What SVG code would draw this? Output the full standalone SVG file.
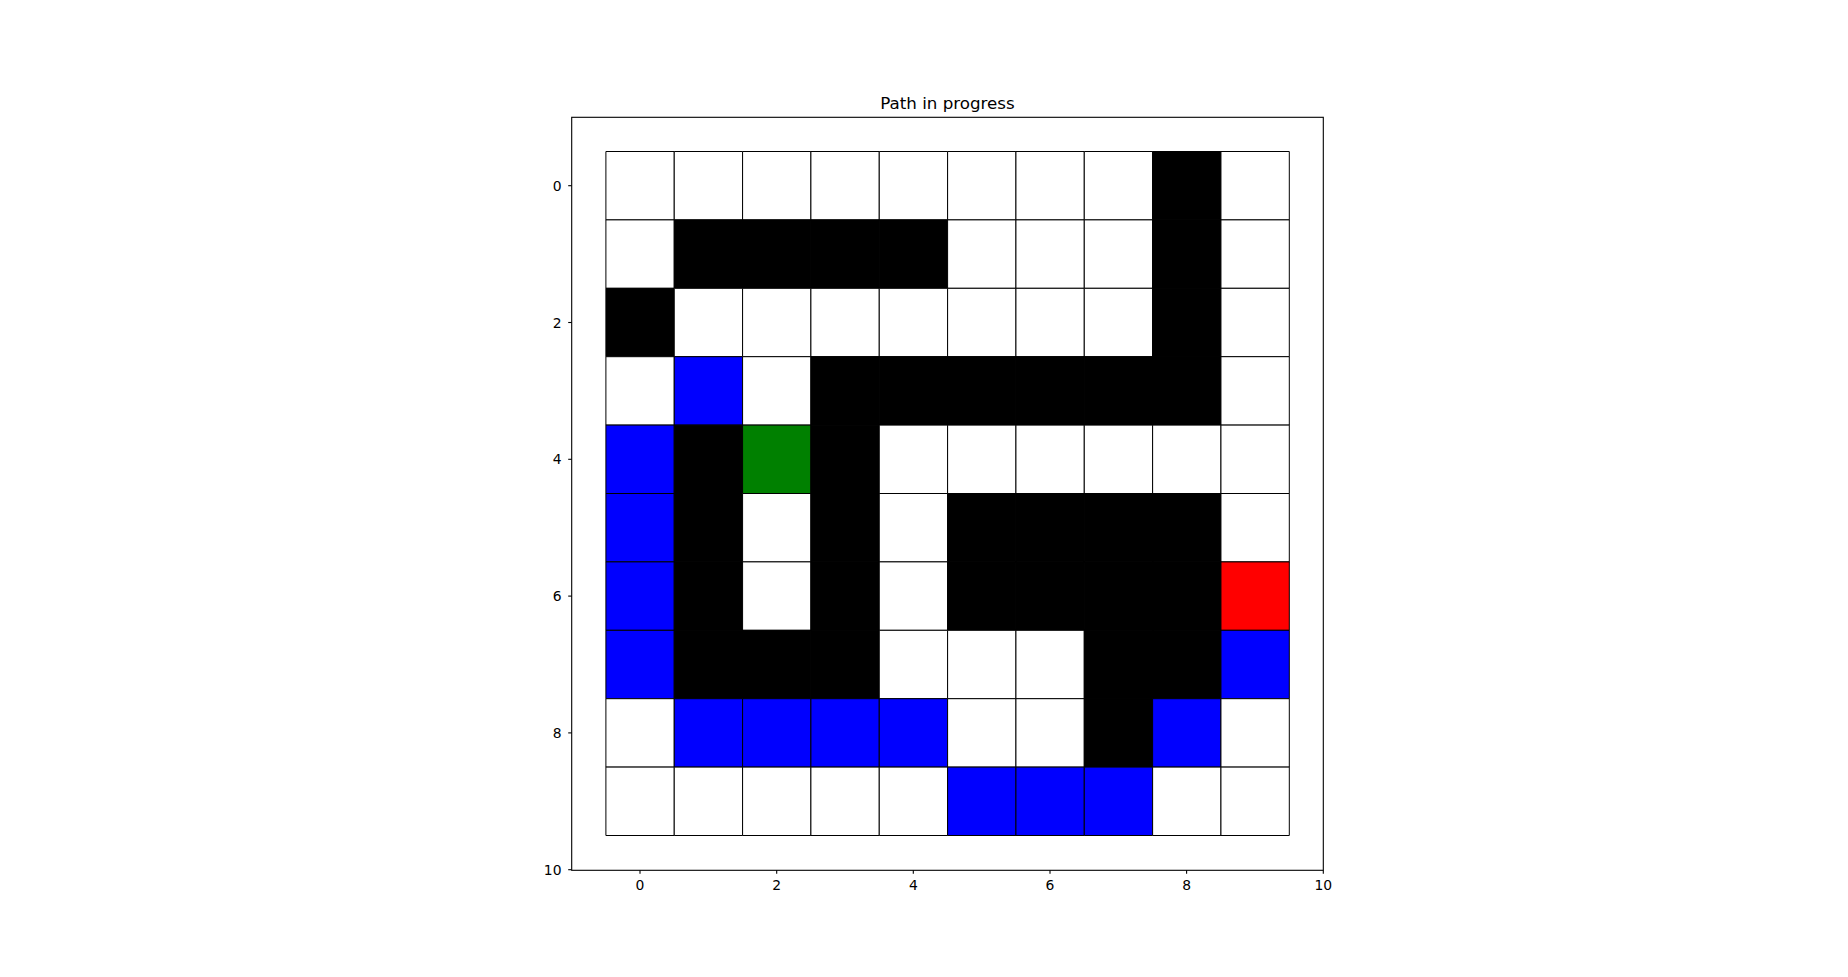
<svg xmlns="http://www.w3.org/2000/svg" width="1848" height="977" viewBox="0 0 1848 977">
<style>
.c{stroke:#000;stroke-width:1;vector-effect:non-scaling-stroke}
.w{fill:#fff}.k{fill:#000}.b{fill:#0000ff}.g{fill:#008000}.r{fill:#ff0000}
.t{font-family:"DejaVu Sans",sans-serif;font-size:13.9px;fill:#000}
.ti{font-family:"DejaVu Sans",sans-serif;font-size:16.7px;fill:#000}
.tk{stroke:#000;stroke-width:1.1}
</style>
<rect width="1848" height="977" fill="#fff"/>
<g id="grid" transform="translate(605.9,151.5) scale(68.34,68.4)">
<g id="row0">
<rect class="c w" x="0" y="0" width="1" height="1"/><rect class="c w" x="1" y="0" width="1" height="1"/><rect class="c w" x="2" y="0" width="1" height="1"/><rect class="c w" x="3" y="0" width="1" height="1"/><rect class="c w" x="4" y="0" width="1" height="1"/><rect class="c w" x="5" y="0" width="1" height="1"/><rect class="c w" x="6" y="0" width="1" height="1"/><rect class="c w" x="7" y="0" width="1" height="1"/><rect class="c k" x="8" y="0" width="1" height="1"/><rect class="c w" x="9" y="0" width="1" height="1"/>
</g>
<g id="row1">
<rect class="c w" x="0" y="1" width="1" height="1"/><rect class="c k" x="1" y="1" width="1" height="1"/><rect class="c k" x="2" y="1" width="1" height="1"/><rect class="c k" x="3" y="1" width="1" height="1"/><rect class="c k" x="4" y="1" width="1" height="1"/><rect class="c w" x="5" y="1" width="1" height="1"/><rect class="c w" x="6" y="1" width="1" height="1"/><rect class="c w" x="7" y="1" width="1" height="1"/><rect class="c k" x="8" y="1" width="1" height="1"/><rect class="c w" x="9" y="1" width="1" height="1"/>
</g>
<g id="row2">
<rect class="c k" x="0" y="2" width="1" height="1"/><rect class="c w" x="1" y="2" width="1" height="1"/><rect class="c w" x="2" y="2" width="1" height="1"/><rect class="c w" x="3" y="2" width="1" height="1"/><rect class="c w" x="4" y="2" width="1" height="1"/><rect class="c w" x="5" y="2" width="1" height="1"/><rect class="c w" x="6" y="2" width="1" height="1"/><rect class="c w" x="7" y="2" width="1" height="1"/><rect class="c k" x="8" y="2" width="1" height="1"/><rect class="c w" x="9" y="2" width="1" height="1"/>
</g>
<g id="row3">
<rect class="c w" x="0" y="3" width="1" height="1"/><rect class="c b" x="1" y="3" width="1" height="1"/><rect class="c w" x="2" y="3" width="1" height="1"/><rect class="c k" x="3" y="3" width="1" height="1"/><rect class="c k" x="4" y="3" width="1" height="1"/><rect class="c k" x="5" y="3" width="1" height="1"/><rect class="c k" x="6" y="3" width="1" height="1"/><rect class="c k" x="7" y="3" width="1" height="1"/><rect class="c k" x="8" y="3" width="1" height="1"/><rect class="c w" x="9" y="3" width="1" height="1"/>
</g>
<g id="row4">
<rect class="c b" x="0" y="4" width="1" height="1"/><rect class="c k" x="1" y="4" width="1" height="1"/><rect class="c g" x="2" y="4" width="1" height="1"/><rect class="c k" x="3" y="4" width="1" height="1"/><rect class="c w" x="4" y="4" width="1" height="1"/><rect class="c w" x="5" y="4" width="1" height="1"/><rect class="c w" x="6" y="4" width="1" height="1"/><rect class="c w" x="7" y="4" width="1" height="1"/><rect class="c w" x="8" y="4" width="1" height="1"/><rect class="c w" x="9" y="4" width="1" height="1"/>
</g>
<g id="row5">
<rect class="c b" x="0" y="5" width="1" height="1"/><rect class="c k" x="1" y="5" width="1" height="1"/><rect class="c w" x="2" y="5" width="1" height="1"/><rect class="c k" x="3" y="5" width="1" height="1"/><rect class="c w" x="4" y="5" width="1" height="1"/><rect class="c k" x="5" y="5" width="1" height="1"/><rect class="c k" x="6" y="5" width="1" height="1"/><rect class="c k" x="7" y="5" width="1" height="1"/><rect class="c k" x="8" y="5" width="1" height="1"/><rect class="c w" x="9" y="5" width="1" height="1"/>
</g>
<g id="row6">
<rect class="c b" x="0" y="6" width="1" height="1"/><rect class="c k" x="1" y="6" width="1" height="1"/><rect class="c w" x="2" y="6" width="1" height="1"/><rect class="c k" x="3" y="6" width="1" height="1"/><rect class="c w" x="4" y="6" width="1" height="1"/><rect class="c k" x="5" y="6" width="1" height="1"/><rect class="c k" x="6" y="6" width="1" height="1"/><rect class="c k" x="7" y="6" width="1" height="1"/><rect class="c k" x="8" y="6" width="1" height="1"/><rect class="c r" x="9" y="6" width="1" height="1"/>
</g>
<g id="row7">
<rect class="c b" x="0" y="7" width="1" height="1"/><rect class="c k" x="1" y="7" width="1" height="1"/><rect class="c k" x="2" y="7" width="1" height="1"/><rect class="c k" x="3" y="7" width="1" height="1"/><rect class="c w" x="4" y="7" width="1" height="1"/><rect class="c w" x="5" y="7" width="1" height="1"/><rect class="c w" x="6" y="7" width="1" height="1"/><rect class="c k" x="7" y="7" width="1" height="1"/><rect class="c k" x="8" y="7" width="1" height="1"/><rect class="c b" x="9" y="7" width="1" height="1"/>
</g>
<g id="row8">
<rect class="c w" x="0" y="8" width="1" height="1"/><rect class="c b" x="1" y="8" width="1" height="1"/><rect class="c b" x="2" y="8" width="1" height="1"/><rect class="c b" x="3" y="8" width="1" height="1"/><rect class="c b" x="4" y="8" width="1" height="1"/><rect class="c w" x="5" y="8" width="1" height="1"/><rect class="c w" x="6" y="8" width="1" height="1"/><rect class="c k" x="7" y="8" width="1" height="1"/><rect class="c b" x="8" y="8" width="1" height="1"/><rect class="c w" x="9" y="8" width="1" height="1"/>
</g>
<g id="row9">
<rect class="c w" x="0" y="9" width="1" height="1"/><rect class="c w" x="1" y="9" width="1" height="1"/><rect class="c w" x="2" y="9" width="1" height="1"/><rect class="c w" x="3" y="9" width="1" height="1"/><rect class="c w" x="4" y="9" width="1" height="1"/><rect class="c b" x="5" y="9" width="1" height="1"/><rect class="c b" x="6" y="9" width="1" height="1"/><rect class="c b" x="7" y="9" width="1" height="1"/><rect class="c w" x="8" y="9" width="1" height="1"/><rect class="c w" x="9" y="9" width="1" height="1"/>
</g>
</g>
<g id="axes">
<rect x="571.7" y="117.3" width="751.6" height="753" fill="none" stroke="#000" stroke-width="1.1"/>
<g class="tk">
<line x1="640" y1="870.3" x2="640" y2="873.8"/><line x1="776.7" y1="870.3" x2="776.7" y2="873.8"/><line x1="913.3" y1="870.3" x2="913.3" y2="873.8"/><line x1="1050" y1="870.3" x2="1050" y2="873.8"/><line x1="1186.6" y1="870.3" x2="1186.6" y2="873.8"/><line x1="1323.3" y1="870.3" x2="1323.3" y2="873.8"/>
<line x1="568.2" y1="185.7" x2="571.7" y2="185.7"/><line x1="568.2" y1="322.5" x2="571.7" y2="322.5"/><line x1="568.2" y1="459.3" x2="571.7" y2="459.3"/><line x1="568.2" y1="596.1" x2="571.7" y2="596.1"/><line x1="568.2" y1="732.9" x2="571.7" y2="732.9"/><line x1="568.2" y1="869.7" x2="571.7" y2="869.7"/>
</g>
<g class="t" text-anchor="middle">
<text x="640" y="890">0</text><text x="776.7" y="890">2</text><text x="913.3" y="890">4</text><text x="1050" y="890">6</text><text x="1186.6" y="890">8</text><text x="1323.3" y="890">10</text>
</g>
<g class="t" text-anchor="end">
<text x="561.5" y="190.7">0</text><text x="561.5" y="327.5">2</text><text x="561.5" y="464.3">4</text><text x="561.5" y="601.1">6</text><text x="561.5" y="737.9">8</text><text x="561.5" y="874.7">10</text>
</g>
<text class="ti" x="947.5" y="108.5" text-anchor="middle">Path in progress</text>
</g>
</svg>
